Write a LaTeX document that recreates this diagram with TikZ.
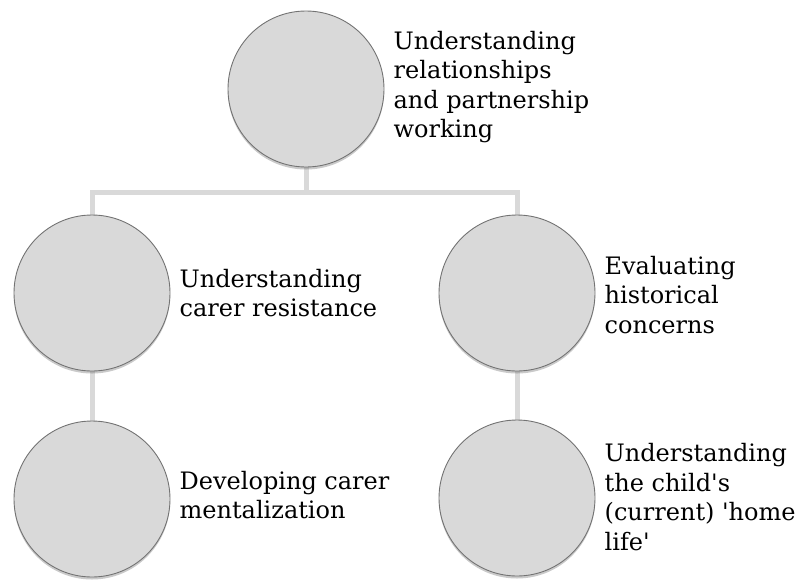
\documentclass[tikz,border=0pt]{standalone}
\usepackage{fontspec}
\setmainfont{DejaVu Serif}
\usetikzlibrary{backgrounds,shadows}
\definecolor{circfill}{HTML}{D9D9D9}
\definecolor{circline}{HTML}{737373}
\definecolor{connline}{HTML}{D9D9D9}
\tikzset{
  bubble/.style={circle, minimum size=156pt, inner sep=0pt, fill=circfill, draw=circline, line width=0.9pt,
    drop shadow={shadow xshift=0pt, shadow yshift=-2.5pt, opacity=0.35, fill=black!60}},
  conn/.style={draw=connline, line width=5pt},
  label/.style={anchor=west, align=left, inner sep=0pt, font=\fontsize{24}{29.5}\selectfont, text=black}
}
\begin{document}
\begin{tikzpicture}[x=1pt,y=1pt]
\useasboundingbox (0,0) rectangle (811,-579);
\node[bubble] (top) at (306,-89) {};
\node[bubble] (lm) at (92,-293) {};
\node[bubble] (lb) at (92,-499) {};
\node[bubble] (rm) at (517,-293) {};
\node[bubble] (rb) at (517,-498) {};
\coordinate (j) at (306,-192);
\begin{pgfonlayer}{background}
\draw[conn] (top.center) -- (j);
\draw[conn] (lm.center) -- (lm.center |- j) -- (rm.center |- j) -- (rm.center);
\draw[conn] (lm.center) -- (lb.center);
\draw[conn] (rm.center) -- (rb.center);
\end{pgfonlayer}
\node[label] (ttop) at ([xshift=9pt,yshift=2pt]top.east) {Understanding\\relationships\\and partnership\\working};
\node[label] (tlm) at ([xshift=9pt]lm.east) {Understanding\\carer resistance};
\node[label] (tlb) at ([xshift=9pt,yshift=4pt]lb.east) {Developing carer\\mentalization};
\node[label] (trm) at ([xshift=9pt,yshift=-2pt]rm.east) {Evaluating\\historical\\concerns};
\node[label] (trb) at ([xshift=9pt,yshift=1pt]rb.east) {Understanding\\the child\textquotesingle s\\(current) \textquotesingle home\\life\textquotesingle};
\end{tikzpicture}
\end{document}
